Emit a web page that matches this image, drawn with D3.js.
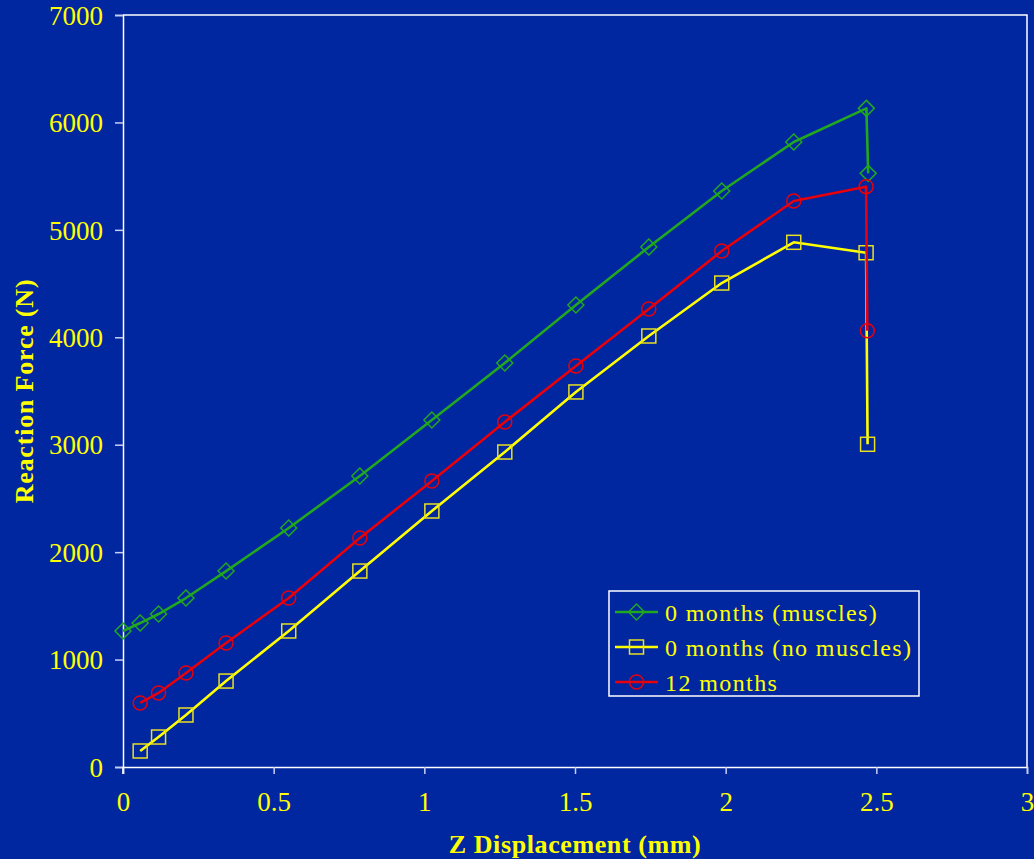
<!DOCTYPE html>
<html>
<head>
<meta charset="utf-8">
<script src="https://cdn.jsdelivr.net/npm/d3@7"></script>
<style>
  html, body { margin: 0; padding: 0; background: #0026A0; }
  svg { display: block; }
  text { font-family: "Liberation Serif", "Times New Roman", serif; fill: #FFFF00; }
</style>
</head>
<body>
<svg id="chart" width="1034" height="859"></svg>
<script>
// Reaction force versus Z displacement for three bone-model configurations
const seriesNames = ["0 months (muscles)", "0 months (no muscles)", "12 months"];

const dispMuscles = [0, 0.057, 0.118, 0.209, 0.342, 0.55, 0.786, 1.025, 1.267, 1.503, 1.745, 1.987, 2.226, 2.467, 2.473];
const forceMuscles = [1266, 1340, 1424, 1573, 1824, 2225, 2709, 3230, 3761, 4300, 4840, 5362, 5818, 6131, 5526];

const dispNoMuscles = [0.057, 0.118, 0.209, 0.342, 0.55, 0.786, 1.025, 1.267, 1.503, 1.745, 1.987, 2.226, 2.466, 2.471];
const forceNoMuscles = [149, 279, 484, 800, 1266, 1824, 2383, 2932, 3491, 4012, 4505, 4884, 4787, 3004];

const disp12 = [0.057, 0.118, 0.209, 0.342, 0.55, 0.786, 1.025, 1.267, 1.503, 1.745, 1.987, 2.226, 2.466, 2.470];
const force12 = [596, 689, 875, 1154, 1573, 2132, 2662, 3211, 3733, 4263, 4803, 5269, 5402, 4061];

const xTicks = [0, 0.5, 1, 1.5, 2, 2.5, 3];
const yTicks = [0, 1000, 2000, 3000, 4000, 5000, 6000, 7000];

const seriesColors = ["#22A81E", "#FFFF00", "#E8000B"];
const seriesMarkers = ["diamond", "square", "circle"];

const series = [
  { name: seriesNames[0], xs: dispMuscles, ys: forceMuscles, color: seriesColors[0], marker: seriesMarkers[0] },
  { name: seriesNames[1], xs: dispNoMuscles, ys: forceNoMuscles, color: seriesColors[1], marker: seriesMarkers[1] },
  { name: seriesNames[2], xs: disp12, ys: force12, color: seriesColors[2], marker: seriesMarkers[2] }
];

const svg = d3.select("#chart");
const plotLeft = 123, plotRight = 1027, plotTop = 15, plotBottom = 767;

const x = d3.scaleLinear().domain([0, 3]).range([plotLeft, plotRight]);
const y = d3.scaleLinear().domain([0, 7000]).range([plotBottom, plotTop]);

// plot frame (top and right edges)
svg.append("path")
  .attr("d", `M${plotLeft},${plotTop}H${plotRight}V${plotBottom}`)
  .attr("fill", "none")
  .attr("stroke", "#FFFFFF")
  .attr("stroke-width", 1.5);

// axes
const yAxis = d3.axisLeft(y).tickValues(yTicks).tickSize(8).tickPadding(12).tickFormat(d3.format("d"));
const xAxis = d3.axisBottom(x).tickValues(xTicks).tickSize(7).tickPadding(18).tickFormat(d => String(d));

const gy = svg.append("g").attr("transform", `translate(${plotLeft},0)`).call(yAxis);
const gx = svg.append("g").attr("transform", `translate(0,${plotBottom})`).call(xAxis);

[gx, gy].forEach(g => {
  g.select(".domain").attr("stroke", "#FFFFFF").attr("stroke-width", 1.5);
  g.selectAll(".tick line").attr("stroke", "#C8D0F0").attr("stroke-width", 1.5);
  g.selectAll(".tick text")
    .attr("fill", "#FFFF00")
    .style("font-family", "'Liberation Serif', 'Times New Roman', serif")
    .style("font-size", "27px");
});
// extend left axis down through the x-axis tick area
svg.append("line")
  .attr("x1", plotLeft).attr("x2", plotLeft).attr("y1", plotBottom).attr("y2", plotBottom + 7)
  .attr("stroke", "#FFFFFF").attr("stroke-width", 1.5);
gy.selectAll(".tick text").attr("dy", "0.34em");

// series lines and markers
const line = d3.line().x(d => x(d[0])).y(d => y(d[1]));

function drawMarker(g, type, color, cx, cy, s) {
  if (type === "diamond") {
    g.append("path")
      .attr("d", `M${cx},${cy - s}L${cx + s},${cy}L${cx},${cy + s}L${cx - s},${cy}Z`)
      .attr("fill", "none").attr("stroke", color).attr("stroke-width", 1.5);
  } else if (type === "square") {
    g.append("rect")
      .attr("x", cx - s).attr("y", cy - s).attr("width", 2 * s).attr("height", 2 * s)
      .attr("fill", "none").attr("stroke", color).attr("stroke-width", 1.5);
  } else {
    g.append("circle")
      .attr("cx", cx).attr("cy", cy).attr("r", s)
      .attr("fill", "none").attr("stroke", color).attr("stroke-width", 1.5);
  }
}

const markerSize = { diamond: 8, square: 7, circle: 7 };

series.forEach(s => {
  const pts = s.xs.map((v, i) => [v, s.ys[i]]);
  const g = svg.append("g");
  g.append("path")
    .attr("d", line(pts))
    .attr("fill", "none")
    .attr("stroke", s.color)
    .attr("stroke-width", 2.6)
    .attr("stroke-linejoin", "round");
  pts.forEach(p => drawMarker(g, s.marker, s.color === "#FFFF00" ? "#E8E020" : s.color, x(p[0]), y(p[1]), markerSize[s.marker]));
});

// axis titles
svg.append("text")
  .attr("x", 575).attr("y", 853)
  .attr("text-anchor", "middle")
  .style("font-size", "26px").style("font-weight", "bold").style("letter-spacing", "0.6px")
  .text("Z Displacement (mm)");

svg.append("text")
  .attr("transform", "translate(33,391) rotate(-90)")
  .attr("text-anchor", "middle")
  .style("font-size", "26px").style("font-weight", "bold").style("letter-spacing", "0.8px")
  .text("Reaction Force (N)");

// legend
const lg = svg.append("g");
lg.append("rect")
  .attr("x", 609).attr("y", 591).attr("width", 310).attr("height", 105)
  .attr("fill", "#0026A0").attr("stroke", "#FFFFFF").attr("stroke-width", 1.5);

series.forEach((s, i) => {
  const cy = 612 + i * 35;
  lg.append("line")
    .attr("x1", 615).attr("x2", 658).attr("y1", cy).attr("y2", cy)
    .attr("stroke", s.color).attr("stroke-width", 2.6);
  drawMarker(lg, s.marker, s.color === "#FFFF00" ? "#E8E020" : s.color, 636.5, cy, markerSize[s.marker]);
  lg.append("text")
    .attr("x", 665).attr("y", cy + 8.5)
    .style("font-size", "24px").style("letter-spacing", "1.4px")
    .text(s.name);
});
</script>
</body>
</html>
